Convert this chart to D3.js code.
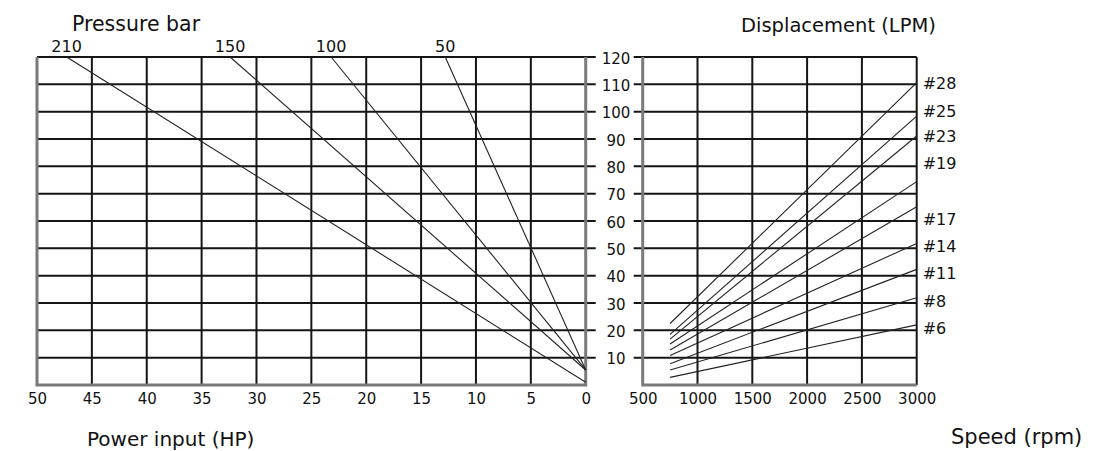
<!DOCTYPE html>
<html lang="en">
<head>
    <meta charset="UTF-8">
    <title>Pump chart</title>
    <script src="https://d3js.org/d3.v7.min.js"></script>
    <style>
        body { margin: 0; background: #fff; }
        text { font-family: "DejaVu Sans", sans-serif; fill: #111; }
    </style>
</head>
<body>
    <div id="my_dataviz"></div>

    <script>
        // ticks
        var hpTicks = [50, 45, 40, 35, 30, 25, 20, 15, 10, 5, 0];
        var lpmTicks = [0, 10, 20, 30, 40, 50, 60, 70, 80, 90, 100, 110, 120];
        var lpmLabels = [10, 20, 30, 40, 50, 60, 70, 80, 90, 100, 110, 120];
        var rpmTicks = [500, 1000, 1500, 2000, 2500, 3000];

        // pressure lines (left): HP at 120 LPM, LPM at 0 HP
        var pressures = ["210", "150", "100", "50"];
        var pressureTopHP = [47.3, 32.4, 23.2, 12.8];
        var pressureZeroLPM = [1, 5.5, 5.5, 5.5];

        // displacement lines (right)
        var models = ["#28", "#25", "#23", "#19", "#17", "#14", "#11", "#8", "#6"];
        var startRpm = 750, endRpm = 3000;
        var lpmStart = [22.5, 18.5, 16.8, 15, 12.8, 10.8, 7.8, 5.5, 2.8];
        var lpmEnd = [110.6, 98.4, 91.1, 74.4, 65.2, 51.8, 42.3, 31.9, 22];
        var labelLpm = [110.4, 100.3, 91.1, 81.1, 60.7, 50.8, 40.8, 30.6, 20.9];

        var width = 1103, height = 451;
        var plotTop = 57, plotBottom = 385;

        var svg = d3.select("#my_dataviz")
            .append("svg")
            .attr("width", width)
            .attr("height", height);

        var y = d3.scaleLinear().domain([0, 120]).range([plotBottom, plotTop]);
        var xHP = d3.scaleLinear().domain([50, 0]).range([37, 585.7]);
        var xRpm = d3.scaleLinear().domain([500, 3000]).range([642.7, 916.7]);

        var gridColor = "#151515";

        // ---- left chart grid
        svg.append("g").selectAll("line.hgl")
            .data(lpmTicks.slice(1))
            .enter().append("line")
            .attr("x1", xHP(50)).attr("x2", xHP(0) + 10)
            .attr("y1", function(d) { return y(d); })
            .attr("y2", function(d) { return y(d); })
            .attr("stroke", gridColor).attr("stroke-width", 2);

        svg.append("g").selectAll("line.vgl")
            .data(hpTicks.slice(1, -1))
            .enter().append("line")
            .attr("x1", function(d) { return xHP(d); })
            .attr("x2", function(d) { return xHP(d); })
            .attr("y1", y(120)).attr("y2", y(0))
            .attr("stroke", gridColor).attr("stroke-width", 2);

        // left chart border (grey, scanned look)
        svg.append("path")
            .attr("d", "M" + xHP(50) + "," + y(120) + "V" + y(0) + "H" + xHP(0) + "V" + y(120))
            .attr("fill", "none").attr("stroke", "#7a7a7a").attr("stroke-width", 3);

        // ---- right chart grid
        svg.append("g").selectAll("line.hgr")
            .data(lpmTicks.slice(1))
            .enter().append("line")
            .attr("x1", xRpm(500) - 9).attr("x2", xRpm(3000))
            .attr("y1", function(d) { return y(d); })
            .attr("y2", function(d) { return y(d); })
            .attr("stroke", gridColor).attr("stroke-width", 2);

        svg.append("g").selectAll("line.vgr")
            .data(rpmTicks.slice(1))
            .enter().append("line")
            .attr("x1", function(d) { return xRpm(d); })
            .attr("x2", function(d) { return xRpm(d); })
            .attr("y1", y(120)).attr("y2", y(0))
            .attr("stroke", gridColor).attr("stroke-width", 2);

        svg.append("path")
            .attr("d", "M" + xRpm(500) + "," + y(120) + "V" + y(0) + "H" + xRpm(3000))
            .attr("fill", "none").attr("stroke", "#7a7a7a").attr("stroke-width", 3);

        // ---- axes (labels only)
        var axHP = svg.append("g")
            .attr("transform", "translate(0," + plotBottom + ")")
            .call(d3.axisBottom(xHP).tickValues(hpTicks).tickSize(0).tickPadding(8));
        var axRpm = svg.append("g")
            .attr("transform", "translate(0," + plotBottom + ")")
            .call(d3.axisBottom(xRpm).tickValues(rpmTicks).tickSize(0).tickPadding(8).tickFormat(d3.format("d")));
        var axY = svg.append("g")
            .attr("transform", "translate(616,0)")
            .call(d3.axisRight(y).tickValues(lpmLabels).tickSize(0).tickPadding(0));
        axY.selectAll("text").attr("text-anchor", "middle").attr("dy", "0.42em");

        [axHP, axRpm, axY].forEach(function(a) {
            a.select(".domain").remove();
            a.selectAll("text").style("font-family", "DejaVu Sans").style("font-size", "15px").attr("fill", "#111");
        });

        // ---- pressure lines
        var lineHP = d3.line()
            .x(function(d) { return xHP(d[0]); })
            .y(function(d) { return y(d[1]); });

        pressures.forEach(function(p, i) {
            svg.append("path")
                .attr("d", lineHP([[pressureTopHP[i], 120], [0, pressureZeroLPM[i]]]))
                .attr("fill", "none").attr("stroke", "#222").attr("stroke-width", 1.1);
            svg.append("text")
                .attr("x", xHP(pressureTopHP[i]))
                .attr("y", 52)
                .attr("text-anchor", "middle")
                .style("font-size", "16px")
                .text(p);
        });

        // ---- displacement lines
        var lineRpm = d3.line()
            .x(function(d) { return xRpm(d[0]); })
            .y(function(d) { return y(d[1]); });

        models.forEach(function(m, i) {
            svg.append("path")
                .attr("d", lineRpm([[startRpm, lpmStart[i]], [endRpm, lpmEnd[i]]]))
                .attr("fill", "none").attr("stroke", "#222").attr("stroke-width", 1.1);
            svg.append("text")
                .attr("x", xRpm(3000) + 6)
                .attr("y", y(labelLpm[i]))
                .attr("dy", "0.36em")
                .style("font-size", "16px")
                .text(m);
        });

        // ---- titles
        svg.append("text").attr("x", 72).attr("y", 31).style("font-size", "20.5px").text("Pressure bar");
        svg.append("text").attr("x", 741).attr("y", 32).style("font-size", "19.5px").text("Displacement (LPM)");
        svg.append("text").attr("x", 87).attr("y", 446).style("font-size", "20px").text("Power input (HP)");
        svg.append("text").attr("x", 951).attr("y", 444).style("font-size", "21px").text("Speed (rpm)");
    </script>
</body>
</html>
